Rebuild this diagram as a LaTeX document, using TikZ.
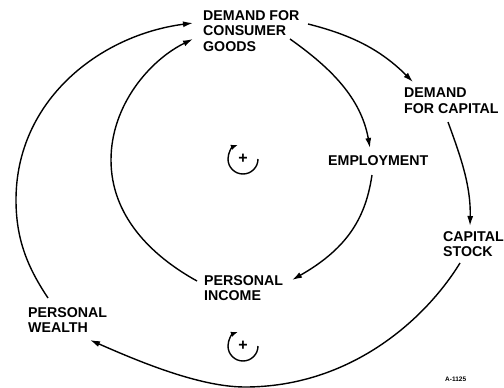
\documentclass[tikz,border=0pt]{standalone}
\usepackage{fontspec}
\setmainfont{Liberation Sans}
\usetikzlibrary{arrows.meta}
\begin{document}
\begin{tikzpicture}[x=1pt,y=-1pt,
  varlabel/.style={anchor=north west, inner sep=0pt, align=left,
    font=\bfseries\fontsize{14.2}{15.5}\selectfont},
  link/.style={line width=1.4pt, -{Latex[length=10pt,width=6pt]}},
  loopmark/.style={line width=1.4pt, -{Latex[length=7pt,width=5.5pt]}},
  loopsign/.style={inner sep=0pt, font=\bfseries\fontsize{16}{16}\selectfont}]
\useasboundingbox[fill=white] (0,0) rectangle (504,388);

% variables
\node[varlabel] (consumer) at (203,10) {DEMAND FOR\\CONSUMER\\GOODS};
\node[varlabel] (capdemand) at (404,88) {DEMAND\\FOR CAPITAL};
\node[varlabel] (employ) at (328,155) {EMPLOYMENT};
\node[varlabel] (capstock) at (443,231) {CAPITAL\\STOCK};
\node[varlabel] (income) at (204,275) {PERSONAL\\INCOME};
\node[varlabel] (wealth) at (28,307) {PERSONAL\\WEALTH};

% causal links
\draw[link] ([shift={(105,14)}]consumer.north west)
  .. controls (352,35) and (381,50) .. ([shift={(9,-6)}]capdemand.north west);
\draw[link] ([shift={(87,29)}]consumer.north west)
  .. controls (331,68) and (361,98) .. ([shift={(42,-7)}]employ.north west);
\draw[link] ([shift={(44,34)}]capdemand.north west)
  .. controls (460,155) and (471,185) .. ([shift={(27,-5)}]capstock.north west);
\draw[link] ([shift={(44,20)}]employ.north west)
  .. controls (366,215) and (350,247) .. ([shift={(88,5)}]income.north west);
\draw[link] ([shift={(-7,6)}]income.north west)
  .. controls (150,255) and (111,215) .. (111,160)
  .. controls (111,105) and (150,60) .. ([shift={(-10,29)}]consumer.north west);
\draw[link] ([shift={(17,32)}]capstock.north west)
  .. controls (425,320) and (350,387) .. (245,387)
  .. controls (200,387) and (140,362) .. ([shift={(62,33)}]wealth.north west);
\draw[link] ([shift={(20,-9)}]wealth.north west)
  .. controls (28,268) and (16,240) .. (16,200)
  .. controls (16,100) and (100,35) .. ([shift={(-10,13)}]consumer.north west);

% loop polarity markers
\node[loopsign] (loopA) at (243,159) {+};
\draw[loopmark] (loopA.center) ++(15,0) arc[start angle=0, end angle=250, radius=15];
\node[loopsign] (loopB) at (243,346) {+};
\draw[loopmark] (loopB.center) ++(15,0) arc[start angle=0, end angle=250, radius=15];

% drawing number
\node[inner sep=0pt, anchor=west, font=\bfseries\fontsize{6.5}{6.5}\selectfont] (dwg) at (445,379) {A-1125};
\end{tikzpicture}
\end{document}
